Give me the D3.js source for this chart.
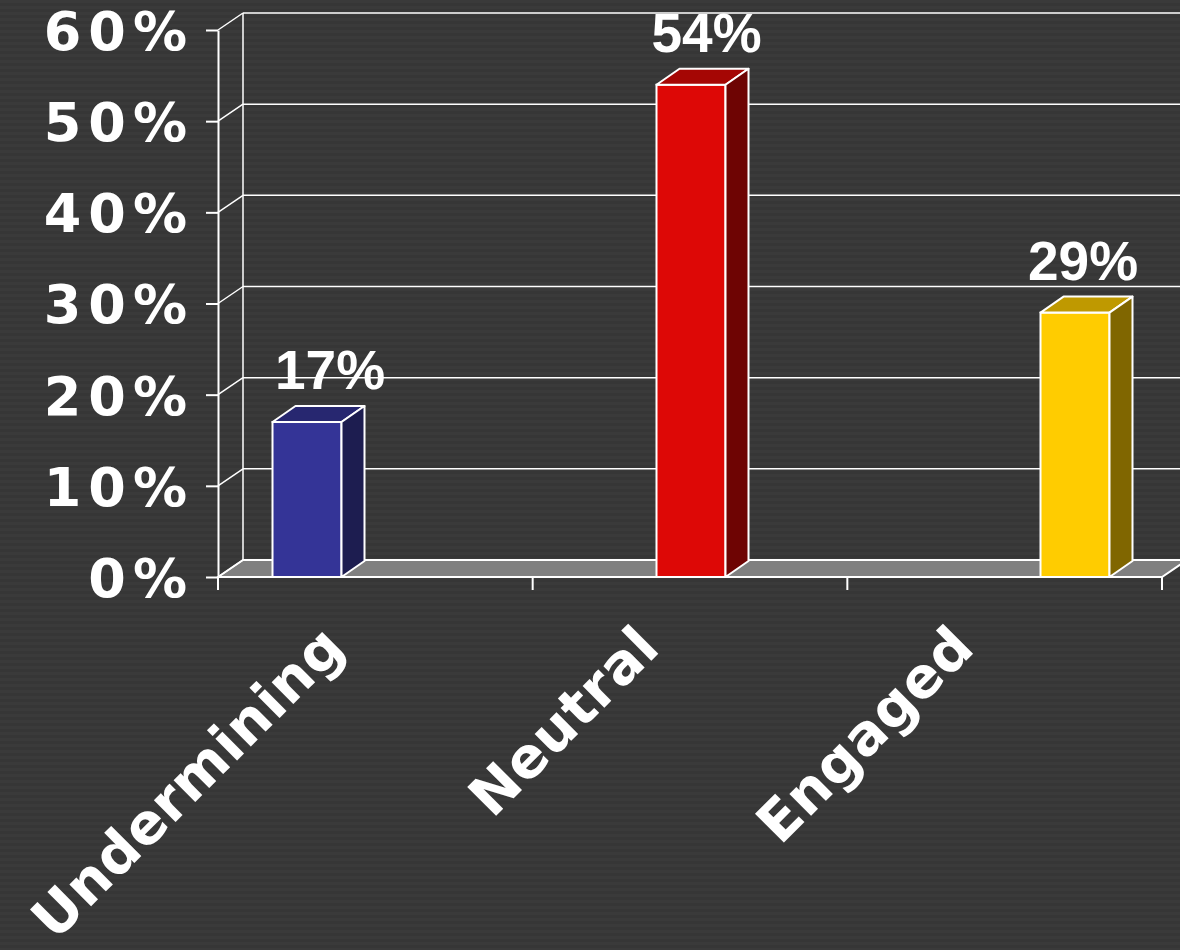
<!DOCTYPE html>
<html>
<head>
<meta charset="utf-8">
<script src="https://cdn.jsdelivr.net/npm/d3@7"></script>
<style>
  html, body { margin: 0; padding: 0; background: #383838; }
  svg { display: block; }
</style>
</head>
<body>
<div id="chart"></div>
<script>
/* ------------------------- Data ------------------------- */
var categories = ["Undermining", "Neutral", "Engaged"];
var values = [17, 54, 29];
var yTicks = [0, 10, 20, 30, 40, 50, 60];

/* ------------------------- General ------------------------- */
var width = 1180,
    height = 950,
    depth = {x: 25, y: -17},
    barDepth = {x: 23, y: -16},
    barWidth = 69,
    lineColor = "#ffffff",
    labelFont = "'DejaVu Sans', sans-serif",
    valueFont = "'Liberation Sans', Arial, sans-serif";

var front = {left: 218, right: 1162, top: 30, bottom: 577};

var y = d3.scaleLinear().domain([0, 60]).range([front.bottom, front.top]);
var x = d3.scaleBand().domain(categories).range([front.left, front.right]);
/* bars sit on their own spacing (as in the original 3D chart) */
var xBar = d3.scalePoint().domain(categories).range([307, 1075]);
var xLabel = d3.scalePoint().domain(categories).range([330, 1083]);

var color = d3.scaleOrdinal().domain(categories)
    .range([
        {front: "#343497", top: "#272770", side: "#1d1d50"},
        {front: "#dd0806", top: "#a50604", side: "#6e0403"},
        {front: "#ffcc00", top: "#bf9900", side: "#806600"}
    ]);

var svg = d3.select("#chart")
            .append("svg")
            .attr("width", width)
            .attr("height", height);

/* striped background */
var pattern = svg.append("defs").append("pattern")
    .attr("id", "stripes")
    .attr("width", 8).attr("height", 6)
    .attr("patternUnits", "userSpaceOnUse");
pattern.append("rect").attr("width", 8).attr("height", 3).attr("fill", "#3a3a3a");
pattern.append("rect").attr("y", 3).attr("width", 8).attr("height", 3).attr("fill", "#363636");

svg.append("rect")
    .attr("width", width)
    .attr("height", height)
    .attr("fill", "url(#stripes)");

/* ------------------------- Walls ------------------------- */
var walls = svg.append("g").attr("class", "walls");

/* floor */
walls.append("path")
    .attr("d", "M" + front.left + "," + y(0) +
               "L" + (front.left + depth.x) + "," + (y(0) + depth.y) +
               "L" + (front.right + depth.x) + "," + (y(0) + depth.y) +
               "L" + front.right + "," + y(0) + "Z")
    .attr("fill", "#808080")
    .attr("stroke", lineColor)
    .attr("stroke-width", 2);

/* back wall gridlines */
walls.selectAll(".grid")
    .data(yTicks.filter(function(d) { return d > 0; }))
    .enter().append("line")
    .attr("class", "grid")
    .attr("x1", front.left + depth.x)
    .attr("x2", front.right + depth.x)
    .attr("y1", function(d) { return y(d) + depth.y; })
    .attr("y2", function(d) { return y(d) + depth.y; })
    .attr("stroke", lineColor)
    .attr("stroke-width", 1.5);

/* side wall: diagonals and back edge */
walls.selectAll(".diag")
    .data(yTicks)
    .enter().append("line")
    .attr("class", "diag")
    .attr("x1", front.left)
    .attr("x2", front.left + depth.x)
    .attr("y1", function(d) { return y(d); })
    .attr("y2", function(d) { return y(d) + depth.y; })
    .attr("stroke", lineColor)
    .attr("stroke-width", 1.5);

walls.append("line")
    .attr("x1", front.left + depth.x)
    .attr("x2", front.left + depth.x)
    .attr("y1", y(0) + depth.y)
    .attr("y2", y(60) + depth.y)
    .attr("stroke", lineColor)
    .attr("stroke-width", 1.5);

/* ------------------------- Axes ------------------------- */
var yAxis = d3.axisLeft(y)
    .tickValues(yTicks)
    .tickSize(12)
    .tickSizeOuter(0)
    .tickPadding(12)
    .tickFormat(function(d) { return d + "%"; });

var gy = svg.append("g")
    .attr("transform", "translate(" + front.left + ",0)")
    .call(yAxis);

gy.select(".domain").attr("stroke", lineColor).attr("stroke-width", 2);
gy.selectAll(".tick line").attr("stroke", lineColor).attr("stroke-width", 2);
gy.selectAll(".tick text")
    .attr("fill", "#ffffff")
    .attr("font-family", labelFont)
    .attr("font-weight", "bold")
    .attr("font-size", 54)
    .attr("letter-spacing", 7)
    .attr("dy", "0.36em");

/* x axis line with ticks at category edges */
svg.append("line")
    .attr("x1", front.left).attr("x2", front.right)
    .attr("y1", y(0)).attr("y2", y(0))
    .attr("stroke", lineColor)
    .attr("stroke-width", 2);

var edges = categories.map(function(c) { return x(c); }).concat([front.right]);
svg.selectAll(".xtick")
    .data(edges)
    .enter().append("line")
    .attr("class", "xtick")
    .attr("x1", function(d) { return d; })
    .attr("x2", function(d) { return d; })
    .attr("y1", y(0))
    .attr("y2", y(0) + 13)
    .attr("stroke", lineColor)
    .attr("stroke-width", 2);

/* category labels, rotated */
svg.selectAll(".xlabel")
    .data(categories)
    .enter().append("text")
    .attr("class", "xlabel")
    .attr("transform", function(d) {
        return "translate(" + (x(d) + x.bandwidth() / 2 - 28) + "," + 650 + ")rotate(-45)";
    })
    .attr("text-anchor", "end")
    .attr("fill", "#ffffff")
    .attr("font-family", labelFont)
    .attr("font-weight", "bold")
    .attr("font-size", 56)
    .attr("letter-spacing", 0.5)
    .text(function(d) { return d; });

/* ------------------------- Bars ------------------------- */
var bars = svg.selectAll(".bar")
    .data(categories)
    .enter().append("g")
    .attr("class", "bar");

function barLeft(d) { return xBar(d) - barWidth / 2; }
function barTop(d, i) { return y(values[i]); }

/* front face */
bars.append("rect")
    .attr("x", barLeft)
    .attr("y", barTop)
    .attr("width", barWidth)
    .attr("height", function(d, i) { return y(0) - y(values[i]); })
    .attr("fill", function(d) { return color(d).front; })
    .attr("stroke", lineColor)
    .attr("stroke-width", 2);

/* top face */
bars.append("path")
    .attr("d", function(d, i) {
        var x0 = barLeft(d), y0 = barTop(d, i);
        return "M" + x0 + "," + y0 +
               "L" + (x0 + barDepth.x) + "," + (y0 + barDepth.y) +
               "L" + (x0 + barWidth + barDepth.x) + "," + (y0 + barDepth.y) +
               "L" + (x0 + barWidth) + "," + y0 + "Z";
    })
    .attr("fill", function(d) { return color(d).top; })
    .attr("stroke", lineColor)
    .attr("stroke-width", 2)
    .attr("stroke-linejoin", "round");

/* side face */
bars.append("path")
    .attr("d", function(d, i) {
        var x0 = barLeft(d) + barWidth, y0 = barTop(d, i);
        return "M" + x0 + "," + y0 +
               "L" + (x0 + barDepth.x) + "," + (y0 + barDepth.y) +
               "L" + (x0 + barDepth.x) + "," + (y(0) + barDepth.y) +
               "L" + x0 + "," + y(0) + "Z";
    })
    .attr("fill", function(d) { return color(d).side; })
    .attr("stroke", lineColor)
    .attr("stroke-width", 2)
    .attr("stroke-linejoin", "round");

/* value labels */
bars.append("text")
    .attr("x", function(d) { return xLabel(d); })
    .attr("y", function(d, i) { return y(values[i]) + barDepth.y - 17; })
    .attr("text-anchor", "middle")
    .attr("fill", "#ffffff")
    .attr("font-family", valueFont)
    .attr("font-weight", "bold")
    .attr("font-size", 55)
    .text(function(d, i) { return values[i] + "%"; });
</script>
</body>
</html>
